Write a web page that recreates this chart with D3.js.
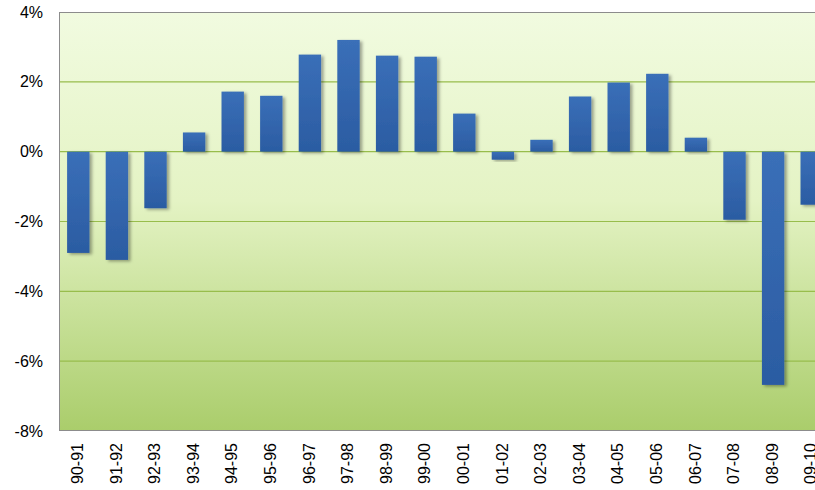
<!DOCTYPE html>
<html><head><meta charset="utf-8">
<script src="https://cdn.jsdelivr.net/npm/d3@7"></script>
<style>body{margin:0;background:#fff;} svg{display:block;}</style>
</head><body>
<script>
const categories = ["90-91","91-92","92-93","93-94","94-95","95-96","96-97","97-98","98-99","99-00","00-01","01-02","02-03","03-04","04-05","05-06","06-07","07-08","08-09","09-10"];
const values = [-2.9,-3.1,-1.62,0.55,1.72,1.6,2.78,3.2,2.75,2.72,1.09,-0.23,0.34,1.58,1.98,2.23,0.4,-1.95,-6.68,-1.52];
const yTicks = [4,2,0,-2,-4,-6,-8];

const W = 815, H = 490;
const m = {left:59, top:12};
const plotW = 38.6*categories.length, plotH = 419;
const svg = d3.select("body").append("svg").attr("width",W).attr("height",H);
const defs = svg.append("defs");
const bg = defs.append("linearGradient").attr("id","bg").attr("x1",0).attr("y1",0).attr("x2",0).attr("y2",1);
bg.append("stop").attr("offset","0%").attr("stop-color","#f1fbe0");
bg.append("stop").attr("offset","45%").attr("stop-color","#e4f3c4");
bg.append("stop").attr("offset","100%").attr("stop-color","#aacd6b");
const bar = defs.append("linearGradient").attr("id","bar").attr("x1",0).attr("y1",0).attr("x2",0).attr("y2",1);
bar.append("stop").attr("offset","0%").attr("stop-color","#3a6fb8");
bar.append("stop").attr("offset","100%").attr("stop-color","#2b5ca2");
const f = defs.append("filter").attr("id","sh").attr("x","-30%").attr("y","-10%").attr("width","170%").attr("height","130%");
f.append("feDropShadow").attr("dx",2.5).attr("dy",1.5).attr("stdDeviation",1.6).attr("flood-color","#000").attr("flood-opacity",0.35);

const x = d3.scaleBand().domain(categories).range([m.left, m.left+plotW]).paddingInner(0.42).paddingOuter(0.21);
const y = d3.scaleLinear().domain([-8,4]).range([m.top+plotH, m.top]);

svg.append("rect").attr("x",m.left).attr("y",m.top).attr("width",plotW).attr("height",plotH).attr("fill","url(#bg)");
svg.append("g").selectAll("line").data(yTicks.filter(t=>t>-8 && t<4)).join("line")
  .attr("x1",m.left).attr("x2",m.left+plotW).attr("y1",d=>y(d)).attr("y2",d=>y(d))
  .attr("stroke","#98bd4c").attr("stroke-width",1.2);
svg.append("rect").attr("x",m.left+0.5).attr("y",m.top+0.5).attr("width",plotW).attr("height",plotH-1)
  .attr("fill","none").attr("stroke","#8c8c8c").attr("stroke-width",1);

svg.append("g").selectAll("rect").data(values).join("rect")
  .attr("x",(d,i)=>x(categories[i])).attr("width",x.bandwidth())
  .attr("y",d=>y(Math.max(0,d))).attr("height",d=>Math.abs(y(d)-y(0)))
  .attr("fill","url(#bar)").attr("filter","url(#sh)");

const yAxis = d3.axisLeft(y).tickValues(yTicks).tickSize(0).tickPadding(16).tickFormat(d=>d+"%");
const ga = svg.append("g").attr("transform",`translate(${m.left},0)`).call(yAxis);
ga.select(".domain").remove();
ga.selectAll("text").attr("font-family","Liberation Sans, Arial, sans-serif").attr("font-size",16).attr("fill","#000");

const xAxis = d3.axisBottom(x).tickSize(0).tickPadding(0);
const gx = svg.append("g").attr("transform",`translate(0,${m.top+plotH})`).call(xAxis);
gx.select(".domain").remove();
gx.selectAll("text").attr("font-family","Liberation Sans, Arial, sans-serif").attr("font-size",16).attr("fill","#000")
  .attr("transform","rotate(-90)").attr("text-anchor","end").attr("x",-12).attr("y",-1).attr("dy","0.35em");
</script>
</body></html>
